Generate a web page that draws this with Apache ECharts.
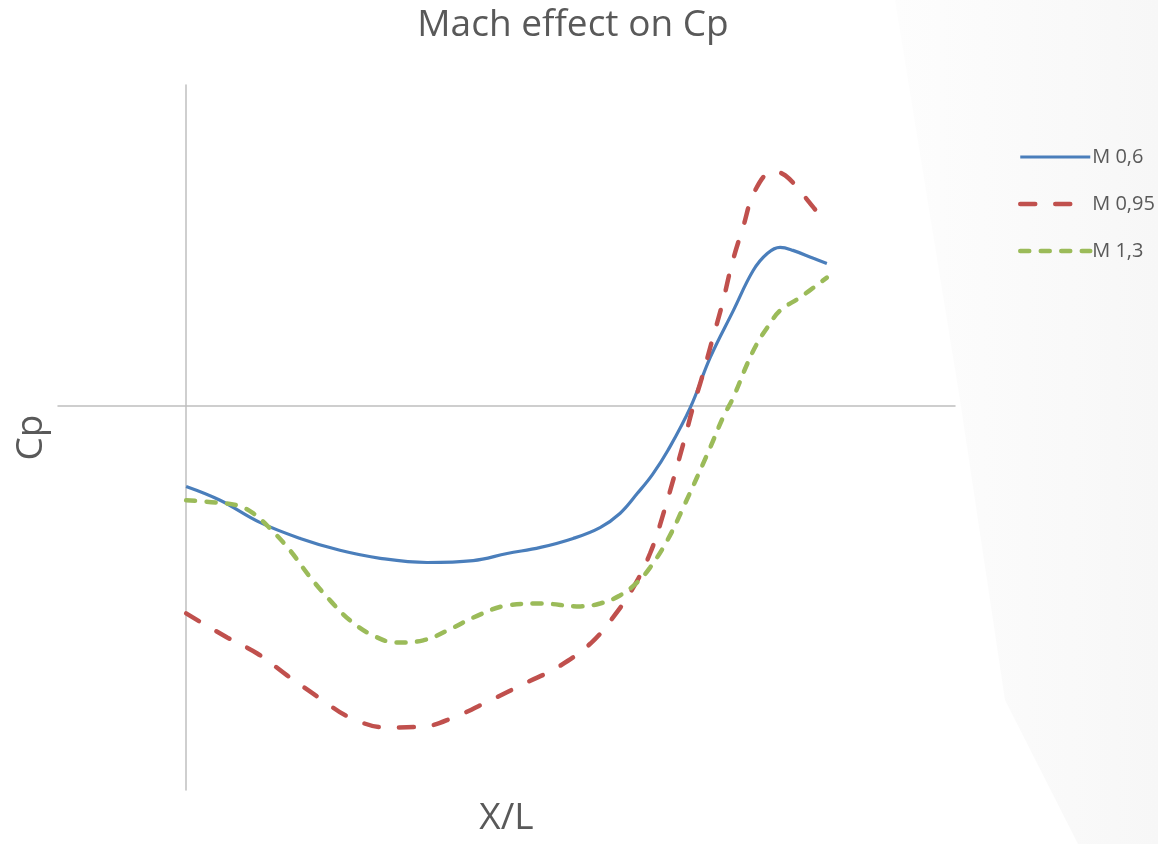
<!DOCTYPE html>
<html><head><meta charset="utf-8">
<script src="https://cdn.jsdelivr.net/npm/echarts@6/dist/echarts.min.js"></script>
<style>html,body{margin:0;padding:0;background:#fff}#c{width:1158px;height:844px}</style>
</head><body><div id="c"></div>
<script>
const seriesNames = ['M 0,6', 'M 0,95', 'M 1,3'];
const m06X = [0, 0.053, 0.115, 0.178, 0.240, 0.303, 0.376, 0.448, 0.501, 0.553, 0.604, 0.646, 0.677, 0.704, 0.728, 0.752, 0.787, 0.818, 0.854, 0.885, 0.907, 0.927, 0.947, 0.979, 1.0];
const m06Y = [-0.253, -0.296, -0.365, -0.415, -0.452, -0.477, -0.490, -0.484, -0.462, -0.443, -0.415, -0.381, -0.337, -0.275, -0.215, -0.140, -0.006, 0.150, 0.296, 0.421, 0.474, 0.493, 0.484, 0.459, 0.443];
const m095X = [0, 0.064, 0.111, 0.158, 0.209, 0.256, 0.314, 0.370, 0.417, 0.474, 0.532, 0.579, 0.631, 0.666, 0.698, 0.724, 0.743, 0.776, 0.791, 0.805, 0.821, 0.837, 0.852, 0.869, 0.888, 0.916, 0.935, 0.961, 0.979, 1.0];
const m095Y = [-0.649, -0.724, -0.774, -0.843, -0.914, -0.974, -1.005, -1.002, -0.974, -0.921, -0.864, -0.818, -0.743, -0.662, -0.568, -0.462, -0.350, -0.119, -0.006, 0.087, 0.203, 0.318, 0.443, 0.555, 0.671, 0.730, 0.718, 0.662, 0.618, 0.568];
const m13X = [0, 0.048, 0.080, 0.105, 0.131, 0.162, 0.194, 0.225, 0.256, 0.292, 0.329, 0.370, 0.417, 0.448, 0.501, 0.553, 0.615, 0.646, 0.677, 0.704, 0.724, 0.751, 0.776, 0.818, 0.838, 0.854, 0.876, 0.891, 0.907, 0.927, 0.958, 1.0];
const m13Y = [-0.296, -0.303, -0.312, -0.337, -0.384, -0.452, -0.537, -0.609, -0.671, -0.718, -0.740, -0.733, -0.693, -0.662, -0.624, -0.618, -0.627, -0.618, -0.593, -0.552, -0.506, -0.421, -0.318, -0.131, -0.037, 0.025, 0.131, 0.193, 0.243, 0.296, 0.337, 0.399];

const pair = (xs, ys) => xs.map((x, i) => [x, ys[i]]);
const chart = echarts.init(document.getElementById('c'));
const txt = '#595959';
const font = "'Open Sans', sans-serif";
const blue = '#4a7ebb', red = '#c0504d', green = '#9bbb59';
const hidden = { color: 'rgba(0,0,0,0)', borderColor: 'rgba(0,0,0,0)', borderWidth: 0 };
chart.setOption({
  backgroundColor: '#ffffff',
  animation: false,
  graphic: [{
    type: 'polygon', z: -10, silent: true,
    shape: { points: [[895, 0], [1158, 0], [1158, 844], [1078, 844], [1005, 700], [960, 400]] },
    style: { fill: new echarts.graphic.LinearGradient(0, 0, 1, 0, [
      { offset: 0, color: '#fdfdfd' }, { offset: 1, color: '#f7f7f7' }]) }
  }],
  title: {
    text: 'Mach effect on Cp', left: 568, top: 2, textAlign: 'center',
    textStyle: { color: txt, fontSize: 37, fontWeight: 'normal', fontFamily: font }
  },
  legend: {
    orient: 'vertical', left: 1013, top: 142, itemWidth: 70, itemHeight: 18, itemGap: 27,
    textStyle: { color: txt, fontSize: 20, fontFamily: font, padding: [0, 0, 0, -3] },
    itemStyle: hidden,
    data: [
      { name: seriesNames[0], lineStyle: { width: 3.2 }, itemStyle: hidden },
      { name: seriesNames[1], lineStyle: { width: 4.5 }, itemStyle: hidden },
      { name: seriesNames[2], lineStyle: { width: 4.5 }, itemStyle: hidden }
    ]
  },
  grid: { left: 58, right: 203, top: 85, bottom: 54, containLabel: false, outerBoundsMode: 'none' },
  xAxis: {
    type: 'value', min: -0.2, max: 1.2, name: 'X/L', nameLocation: 'middle', nameGap: 10,
    nameTextStyle: { color: txt, fontSize: 37, fontFamily: font },
    axisLine: { onZero: true, lineStyle: { color: '#bfbfbf', width: 1.5 } },
    axisTick: { show: false }, axisLabel: { show: false }, splitLine: { show: false }
  },
  yAxis: {
    type: 'value', min: -1.2, max: 1.0, name: 'Cp', nameLocation: 'middle', nameGap: 8,
    nameRotate: 90,
    nameTextStyle: { color: txt, fontSize: 37, fontFamily: font },
    axisLine: { onZero: true, lineStyle: { color: '#bfbfbf', width: 1.5 } },
    axisTick: { show: false }, axisLabel: { show: false }, splitLine: { show: false }
  },
  series: [
    { name: seriesNames[0], type: 'line', smooth: 0.4, symbol: 'none', data: pair(m06X, m06Y),
      lineStyle: { color: blue, width: 3.2 }, itemStyle: { color: blue } },
    { name: seriesNames[1], type: 'line', smooth: 0.4, symbol: 'none', data: pair(m095X, m095Y),
      lineStyle: { color: red, width: 4.5, type: [15, 20], cap: 'round' }, itemStyle: { color: red } },
    { name: seriesNames[2], type: 'line', smooth: 0.4, symbol: 'none', data: pair(m13X, m13Y),
      lineStyle: { color: green, width: 4.5, type: [9, 11.5], cap: 'round' }, itemStyle: { color: green } }
  ]
});
</script></body></html>
